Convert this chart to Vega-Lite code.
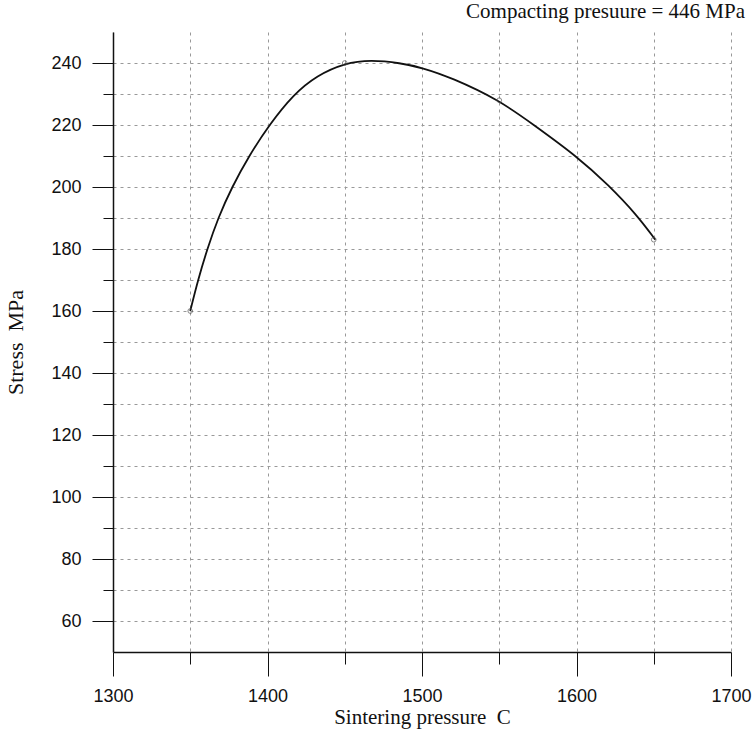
{
  "$schema": "https://vega.github.io/schema/vega-lite/v6.json",
  "width": 618,
  "height": 620,
  "autosize": {"type": "none"},
  "padding": {"left": 113, "top": 32, "right": 25, "bottom": 80},
  "background": "white",
  "config": {"view": {"stroke": null}},
  "title": {
    "text": "Compacting presuure = 446 MPa",
    "anchor": "end",
    "dx": -6,
    "offset": 10,
    "font": "Liberation Serif",
    "fontSize": 21,
    "fontWeight": "normal",
    "color": "#111"
  },
  "datasets": {
    "curve": [
      {"temp": 1350, "stress": 160},
      {"temp": 1355, "stress": 170},
      {"temp": 1361, "stress": 180},
      {"temp": 1368, "stress": 190},
      {"temp": 1377, "stress": 200},
      {"temp": 1388, "stress": 210},
      {"temp": 1401, "stress": 220},
      {"temp": 1417, "stress": 230},
      {"temp": 1432, "stress": 236},
      {"temp": 1450, "stress": 240},
      {"temp": 1467, "stress": 241},
      {"temp": 1486, "stress": 240},
      {"temp": 1500, "stress": 238.5},
      {"temp": 1519, "stress": 235.3},
      {"temp": 1550, "stress": 228},
      {"temp": 1571, "stress": 220.5},
      {"temp": 1600, "stress": 210},
      {"temp": 1621, "stress": 200.5},
      {"temp": 1639, "stress": 191},
      {"temp": 1651, "stress": 183}
    ],
    "measured": [
      {"temp": 1350, "stress": 160},
      {"temp": 1450, "stress": 240},
      {"temp": 1550, "stress": 228},
      {"temp": 1650, "stress": 183}
    ]
  },
  "layer": [
    {
      "data": {"name": "curve"},
      "mark": {"type": "line", "interpolate": "basis", "color": "#111", "strokeWidth": 1.8},
      "encoding": {
        "x": {
          "field": "temp",
          "type": "quantitative",
          "scale": {"domain": [1300, 1700], "nice": false, "zero": false},
          "axis": {
            "values": [1300, 1350, 1400, 1450, 1500, 1550, 1600, 1650, 1700],
            "tickCount": 30,
            "format": "d",
            "labelExpr": "datum.value % 100 === 0 ? datum.label : ''",
            "tickSize": {"condition": {"test": "datum.value % 100 === 0", "value": 24}, "value": 12},
            "labelPadding": 11,
            "labelFont": "Liberation Sans",
            "labelFontSize": 18,
            "labelColor": "#111",
            "labelFlush": false,
            "labelOverlap": false,
            "title": "Sintering pressure\u00a0 C",
            "titleFont": "Liberation Serif",
            "titleFontSize": 21,
            "titleFontWeight": "normal",
            "titleColor": "#111",
            "titleBaseline": "alphabetic",
            "titleY": 71,
            "grid": true,
            "gridDash": [3, 4],
            "gridColor": "#999",
            "gridWidth": 1,
            "domainColor": "#111",
            "domainWidth": 1.5,
            "tickColor": "#111"
          }
        },
        "y": {
          "field": "stress",
          "type": "quantitative",
          "scale": {"domain": [50, 250], "nice": false, "zero": false},
          "axis": {
            "values": [60, 70, 80, 90, 100, 110, 120, 130, 140, 150, 160, 170, 180, 190, 200, 210, 220, 230, 240],
            "tickCount": 40,
            "labelExpr": "datum.value % 20 === 0 ? datum.label : ''",
            "tickSize": {"condition": {"test": "datum.value % 20 === 0", "value": 21}, "value": 10},
            "labelPadding": 11,
            "labelFont": "Liberation Sans",
            "labelFontSize": 18,
            "labelColor": "#111",
            "labelOverlap": false,
            "title": "Stress\u00a0 MPa",
            "titleFont": "Liberation Serif",
            "titleFontSize": 22,
            "titleFontWeight": "normal",
            "titleColor": "#111",
            "titleAngle": 270,
            "titleBaseline": "middle",
            "titleAlign": "center",
            "titleX": -98,
            "titleY": 310,
            "grid": true,
            "gridDash": [3, 4],
            "gridColor": "#999",
            "gridWidth": 1,
            "domainColor": "#111",
            "domainWidth": 1.5,
            "tickColor": "#111"
          }
        }
      }
    },
    {
      "data": {"name": "measured"},
      "mark": {"type": "point", "shape": "circle", "filled": false, "size": 22, "color": "#555", "strokeWidth": 1},
      "encoding": {
        "x": {"field": "temp", "type": "quantitative"},
        "y": {"field": "stress", "type": "quantitative"}
      }
    },
    {
      "mark": {"type": "rule", "color": "#111", "strokeWidth": 1.5},
      "encoding": {"y": {"datum": 250, "type": "quantitative"}}
    },
    {
      "mark": {"type": "rule", "color": "#333", "strokeWidth": 1.2, "strokeDash": [2, 1]},
      "encoding": {"x": {"datum": 1700, "type": "quantitative"}}
    }
  ]
}
